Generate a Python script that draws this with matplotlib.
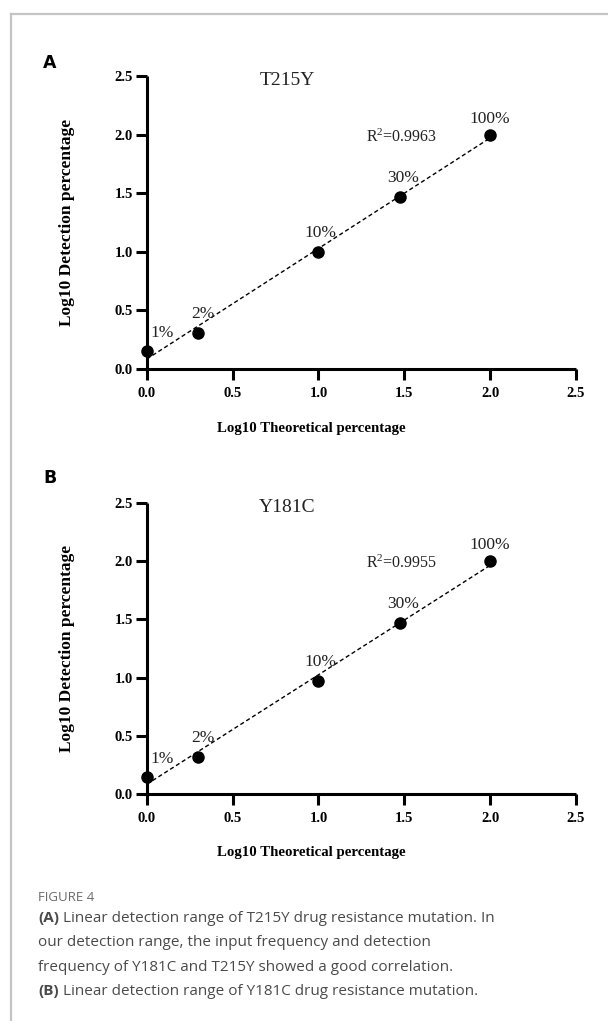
import numpy as np
import matplotlib
matplotlib.use("Agg")
import matplotlib.pyplot as plt
from matplotlib.lines import Line2D

# ---- data ----
theoretical_pct = ["1%", "2%", "10%", "30%", "100%"]
log_theoretical = [0.0, 0.301, 1.0, 1.477, 2.0]
detect_T215Y = [0.15, 0.31, 1.00, 1.47, 2.00]
detect_Y181C = [0.15, 0.32, 0.97, 1.47, 2.00]
r2_T215Y = "0.9963"
r2_Y181C = "0.9955"
titles = ["T215Y", "Y181C"]
panel_letters = ["A", "B"]
ticks = [0.0, 0.5, 1.0, 1.5, 2.0, 2.5]
xlabel = "Log10 Theoretical percentage"
ylabel = "Log10 Detection percentage"

SERIF = "Liberation Serif"
plt.rcParams["mathtext.fontset"] = "custom"
plt.rcParams["mathtext.rm"] = SERIF
plt.rcParams["mathtext.it"] = SERIF + ":italic"

W, H = 608, 1021
fig = plt.figure(figsize=(W / 100, H / 100), dpi=100)

# outer frame
fig.add_artist(Line2D([11 / W, 11 / W], [0, 1 - 14 / H], color="#c4c4c4", lw=1.6))
fig.add_artist(Line2D([11 / W, 1], [1 - 14 / H, 1 - 14 / H], color="#c4c4c4", lw=1.6))

label_offsets = [(15, 18), (5, 19), (2, 19), (3, 19), (0, 16)]

def panel(rect, y, title, r2, letter, letter_y):
    ax = fig.add_axes(rect)
    ax.set_xlim(0, 2.5)
    ax.set_ylim(0, 2.5)
    for s in ["top", "right"]:
        ax.spines[s].set_visible(False)
    for s in ["left", "bottom"]:
        ax.spines[s].set_linewidth(2.2)
        ax.spines[s].set_capstyle("butt")
    ax.set_xticks(ticks)
    ax.set_yticks(ticks)
    ax.set_xticklabels([f"{t:.1f}" for t in ticks])
    ax.set_yticklabels([f"{t:.1f}" for t in ticks])
    ax.tick_params(width=2.2, length=8, labelsize=10.5)
    ax.tick_params(axis="y", pad=2)
    ax.tick_params(axis="x", pad=5)
    for lab in ax.get_xticklabels() + ax.get_yticklabels():
        lab.set_fontfamily(SERIF)
        lab.set_fontweight("bold")
    ax.set_xlabel(xlabel, fontfamily=SERIF, fontweight="bold", fontsize=10.7)
    ax.set_ylabel(ylabel, fontfamily=SERIF, fontweight="bold", fontsize=12.5)
    ax.xaxis.set_label_coords(0.383, -0.18)
    ax.yaxis.set_label_coords(-0.167, 0.5)

    # fit
    slope, intercept = np.polyfit(log_theoretical, y, 1)
    xs = np.array([0.0, max(log_theoretical)])
    ax.plot(xs, slope * xs + intercept, color="black", lw=1.0,
            dashes=(3, 2), zorder=2)
    ax.plot(log_theoretical, y, "o", color="black", ms=8, zorder=3,
            clip_on=False)
    for xi, yi, lab, (dx, dy) in zip(log_theoretical, y, theoretical_pct,
                                     label_offsets):
        ax.annotate(lab, (xi, yi), xytext=(dx * 0.72, dy * 0.72),
                    textcoords="offset points", ha="center", va="center",
                    fontfamily=SERIF, fontsize=12.5, color="#222222")
    ax.text(0.82, 2.46, title, ha="center", va="center",
            fontfamily=SERIF, fontsize=14, color="#222222")
    ax.text(1.487, 1.98, r"$\mathrm{R}^{2}$=" + r2, ha="center", va="center",
            fontfamily=SERIF, fontsize=11.5, color="#222222")
    fig.text(50 / W, 1 - letter_y / H, letter, ha="center", va="center",
             fontfamily="DejaVu Sans", fontweight="bold", fontsize=12.5)
    return ax

panel([146.7 / W, 1 - 369 / H, 429.3 / W, 293 / H], detect_T215Y,
      titles[0], r2_T215Y, panel_letters[0], 63)
panel([146.7 / W, 1 - 794 / H, 429.3 / W, 291 / H], detect_Y181C,
      titles[1], r2_Y181C, panel_letters[1], 478)

# caption
CAP = "Open Sans"
cap_color = "#4a4a4a"
fig.text(38 / W, 1 - 897 / H, "FIGURE 4", fontfamily=CAP, fontsize=9.5,
         color="#6a6a6a", va="center", ha="left")
cap_lines = [
    ("(A)", " Linear detection range of T215Y drug resistance mutation. In"),
    ("", "our detection range, the input frequency and detection"),
    ("", "frequency of Y181C and T215Y showed a good correlation."),
    ("(B)", " Linear detection range of Y181C drug resistance mutation."),
]
ys = [918, 943, 967, 991]
for (b, rest), yy in zip(cap_lines, ys):
    if b:
        t1 = fig.text(38 / W, 1 - yy / H, b, fontfamily=CAP, fontsize=11,
                      fontweight="bold", color=cap_color, va="center",
                      ha="left")
        plt.annotate(rest, xy=(1, 0.5), xycoords=t1, va="center", ha="left",
                     fontfamily=CAP, fontsize=11, color=cap_color,
                     annotation_clip=False)
    else:
        fig.text(38 / W, 1 - yy / H, rest, fontfamily=CAP, fontsize=11,
                 color=cap_color, va="center", ha="left")

fig.savefig("out.png", dpi=100)
